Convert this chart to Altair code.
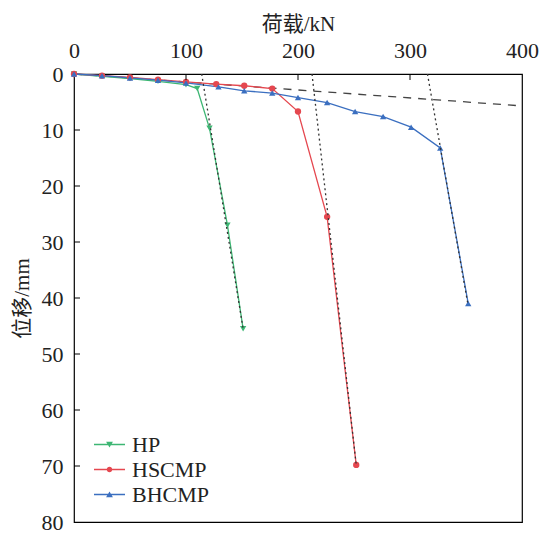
import altair as alt
import pandas as pd

series_names = ["HP", "HSCMP", "BHCMP"]
series_colors = ["#3db673", "#e5474f", "#3b6fc0"]
marker_shapes = ["triangle-down", "circle", "triangle-up"]

hp_load = [0, 25, 50, 75, 100, 110, 121, 137, 151]
hp_disp = [0, 0.4, 0.8, 1.3, 1.9, 2.6, 9.7, 27.0, 45.5]

hscmp_load = [0, 25, 50, 75, 100, 127, 152, 177, 200, 226, 252]
hscmp_disp = [0, 0.3, 0.6, 1.0, 1.4, 1.8, 2.1, 2.6, 6.7, 25.5, 69.8]

bhcmp_load = [0, 25, 50, 75, 100, 129, 152, 177, 200, 226, 251, 276, 301, 327, 352]
bhcmp_disp = [0, 0.3, 0.7, 1.1, 1.6, 2.3, 3.0, 3.4, 4.2, 5.1, 6.7, 7.6, 9.5, 13.2, 41.0]

# construction lines
baseline_load = [0, 400]
baseline_disp = [0, 5.7]
tangent_names = ["HP", "HP", "HSCMP", "HSCMP", "BHCMP", "BHCMP"]
tangent_load = [114, 151, 212.5, 252, 315.6, 351.6]
tangent_disp = [0, 45.5, 0, 69.8, 0, 41.0]

x_ticks = [0, 100, 200, 300, 400]
y_ticks = [0, 10, 20, 30, 40, 50, 60, 70, 80]
inner_x_ticks = [100, 200, 300]
inner_y_ticks = [10, 20, 30, 40, 50, 60, 70]

rows = []
for name, ld, dp in [("HP", hp_load, hp_disp), ("HSCMP", hscmp_load, hscmp_disp), ("BHCMP", bhcmp_load, bhcmp_disp)]:
    for i, (a, b) in enumerate(zip(ld, dp)):
        rows.append({"series": name, "load": a, "disp": b, "order": i})
curves = pd.DataFrame(rows)
baseline = pd.DataFrame({"load": baseline_load, "disp": baseline_disp})
tangents = pd.DataFrame({"series": tangent_names, "load": tangent_load, "disp": tangent_disp})
xt = pd.DataFrame({"load": inner_x_ticks})
yt = pd.DataFrame({"disp": inner_y_ticks})

serif = "Liberation Serif, Noto Sans CJK SC"
FS = 22

x_enc = alt.X("load:Q", scale=alt.Scale(domain=[0, 400], nice=False),
              axis=alt.Axis(orient="top", values=x_ticks, title="荷载/kN", ticks=False, domain=False,
                            grid=False, labelFlush=False, labelPadding=12, titlePadding=5,
                            titleFontSize=21))
y_enc = alt.Y("disp:Q", scale=alt.Scale(domain=[0, 80], reverse=True, nice=False),
              axis=alt.Axis(values=y_ticks, title="位移/mm", ticks=False, domain=False, grid=False,
                            labelPadding=11, titlePadding=9, titleFontSize=21))

color_scale = alt.Scale(domain=series_names, range=series_colors)

legend_paths = [
    "M-1,-0.05H1V0.05H-1Z M-0.22,-0.17L0.22,-0.17L0,0.2Z",
    "M-1,-0.05H1V0.05H-1Z M0.18,0 A0.18,0.18 0 1,1 -0.18,0 A0.18,0.18 0 1,1 0.18,0Z",
    "M-1,-0.05H1V0.05H-1Z M0.22,0.17L-0.22,0.17L0,-0.2Z",
]

leg = alt.Legend(title=None, orient="none", legendX=20, legendY=358,
                 symbolSize=961, clipHeight=25, rowPadding=0, padding=0,
                 labelFontSize=FS, labelFont=serif, labelOffset=7,
                 symbolStrokeWidth=0, labelColor="#222222")

base_line = alt.Chart(baseline).mark_line(color="#444444", strokeDash=[8, 7], strokeWidth=1.3).encode(x=x_enc, y=y_enc)

lines = alt.Chart(curves).mark_line(strokeWidth=1.3).encode(
    x=x_enc, y=y_enc, order="order:Q",
    color=alt.Color("series:N", scale=color_scale, legend=None),
)
points = alt.Chart(curves).mark_point(filled=True, size=40, opacity=1).encode(
    x=x_enc, y=y_enc,
    color=alt.Color("series:N", scale=color_scale, legend=None),
    shape=alt.Shape("series:N", scale=alt.Scale(domain=series_names, range=marker_shapes), legend=None),
)
tang = alt.Chart(tangents).mark_line(color="#333333", strokeDash=[2, 3], strokeWidth=1.3).encode(
    x=x_enc, y=y_enc, detail="series:N")

legend_layer = alt.Chart(curves).mark_point(filled=True, opacity=1).encode(
    x=x_enc, y=y_enc,
    color=alt.Color("series:N", scale=color_scale, legend=leg),
    shape=alt.Shape("series:N", scale=alt.Scale(domain=series_names, range=legend_paths), legend=leg),
).transform_filter("datum.load < 0")

top_ticks = alt.Chart(xt).mark_rule(color="black", strokeWidth=1).encode(
    x=x_enc, y=alt.value(0), y2=alt.value(6))
left_ticks = alt.Chart(yt).mark_rule(color="black", strokeWidth=1).encode(
    y=y_enc, x=alt.value(0), x2=alt.value(6))

chart = alt.layer(base_line, lines, points, tang, legend_layer, top_ticks, left_ticks).resolve_scale(
    shape="independent", color="independent"
).properties(
    width=448, height=448,
    padding={"left": 66, "top": 66, "right": 18, "bottom": 12},
    autosize=alt.AutoSizeParams(type="none"),
).configure_view(stroke="black", strokeWidth=1.2).configure_axis(
    labelFont=serif, titleFont=serif, labelFontSize=FS, titleFontSize=FS,
    labelColor="#222222", titleColor="#222222", titleFontWeight="normal"
)

chart.save("out.html", embed_options={"renderer": "svg", "actions": False})
